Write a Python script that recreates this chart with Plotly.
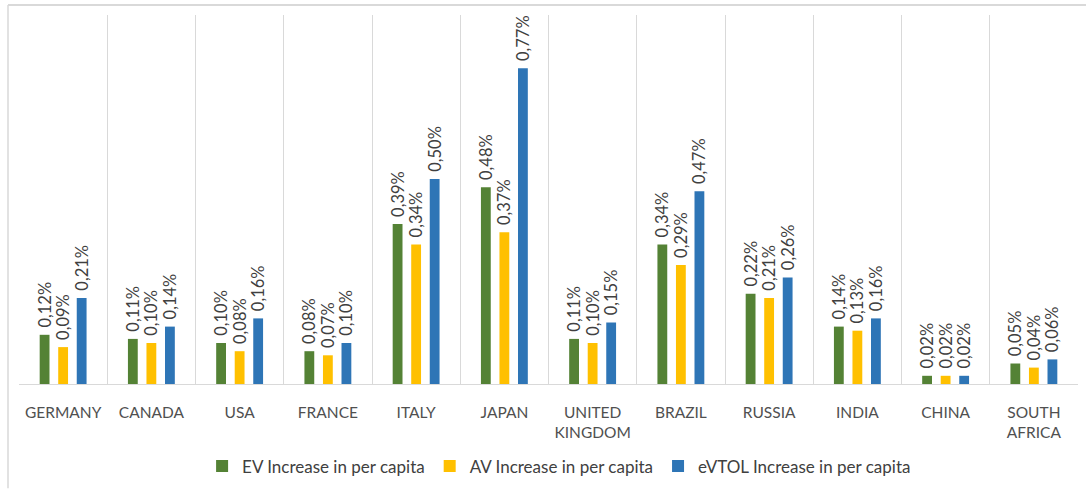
import plotly.graph_objects as go

countries = ["GERMANY", "CANADA", "USA", "FRANCE", "ITALY", "JAPAN",
             "UNITED<br>KINGDOM", "BRAZIL", "RUSSIA", "INDIA", "CHINA",
             "SOUTH<br>AFRICA"]

# Increase in per capita, in percent
ev_increase = [0.12, 0.11, 0.10, 0.08, 0.39, 0.48, 0.11, 0.34, 0.22, 0.14, 0.02, 0.05]
av_increase = [0.09, 0.10, 0.08, 0.07, 0.34, 0.37, 0.10, 0.29, 0.21, 0.13, 0.02, 0.04]
evtol_increase = [0.21, 0.14, 0.16, 0.10, 0.50, 0.77, 0.15, 0.47, 0.26, 0.16, 0.02, 0.06]

series = [
    ("EV Increase in per capita", ev_increase, "#548235"),
    ("AV Increase in per capita", av_increase, "#FFC000"),
    ("eVTOL Increase in per capita", evtol_increase, "#2E75B6"),
]

W, H = 1086, 492
M_L, M_R, M_T, M_B = 19, 8, 15, 105

fig = go.Figure()
for name, vals, color in series:
    fig.add_trace(go.Bar(
        x=countries, y=vals, name=name,
        marker=dict(color=color, line=dict(width=0)),
        texttemplate="\u00a0%{y:.2f}%",
        textposition="outside",
        textangle=-90,
        constraintext="none",
        textfont=dict(family="Lato", size=16.5, color="#404040"),
        cliponaxis=False,
    ))

plot_w = W - M_L - M_R
plot_h = H - M_T - M_B

fig.update_layout(
    width=W, height=H,
    margin=dict(l=M_L, r=M_R, t=M_T, b=M_B),
    paper_bgcolor="white", plot_bgcolor="white",
    separators=",.",
    barmode="group", bargap=0.37, bargroupgap=0.47,
    showlegend=True,
    legend=dict(orientation="h", x=0.51, xanchor="center",
                y=-(470 - (H - M_B)) / plot_h, yanchor="middle",
                font=dict(family="Lato", size=17, color="#404040"),
                itemwidth=30, traceorder="normal"),
    xaxis=dict(type="category", tickson="boundaries", showgrid=True,
               gridcolor="#D9D9D9", gridwidth=1,
               showline=True, linecolor="#D9D9D9", linewidth=1,
               ticks="", ticklabelstandoff=14,
               tickfont=dict(family="Lato", size=15.5, color="#505050"),
               range=[-0.5, len(countries) - 0.5]),
    yaxis=dict(range=[0, 0.9], showgrid=False, zeroline=False,
               showticklabels=False, ticks=""),
    font=dict(family="Lato"),
)

# outer frame (top and left edges)
x_left = (8 - M_L) / plot_w
y_top = 1 + (M_T - 5) / plot_h
fig.add_shape(type="line", xref="paper", yref="paper",
              x0=x_left, x1=1 + M_R / plot_w, y0=y_top, y1=y_top,
              line=dict(color="#D9D9D9", width=2))
fig.add_shape(type="line", xref="paper", yref="paper",
              x0=x_left, x1=x_left, y0=y_top, y1=-M_B / plot_h,
              line=dict(color="#D9D9D9", width=1.5))

fig.write_html("out.html")
